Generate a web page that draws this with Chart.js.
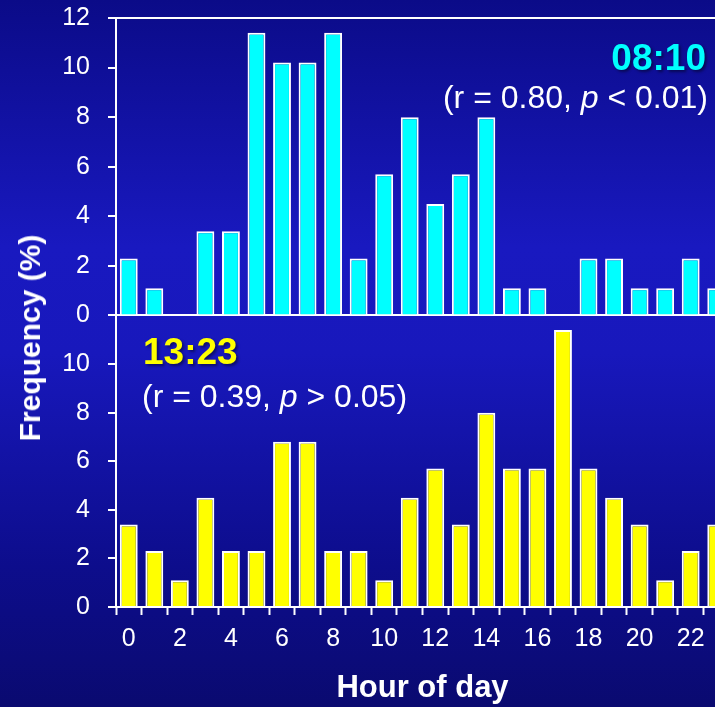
<!DOCTYPE html>
<html>
<head>
<meta charset="utf-8">
<script src="https://cdn.jsdelivr.net/npm/chart.js@4"></script>
<style>
  html, body { margin: 0; padding: 0; overflow: hidden; }
  body {
    width: 715px; height: 707px; position: relative;
    background: linear-gradient(to bottom, #0b0b88 0%, #1919c0 35%, #1818bc 50%, #0d0d8c 80%, #0a0a70 100%);
    font-family: "Liberation Sans", Arial, sans-serif; color: #fff;
  }
  #chart { position: absolute; left: 0; top: 0; }
  .note { position: absolute; white-space: nowrap; line-height: 1; }
  .time { font-size: 37px; font-weight: bold; text-shadow: 2px 2px 3px rgba(0, 0, 0, 0.45); }
  .stat { font-size: 32px; }
</style>
</head>
<body>
<canvas id="chart" width="740" height="707"></canvas>

<div class="note time" style="left:0; width:706px; text-align:right; top:39px; color:#00ffff;">08:10</div>
<div class="note stat" style="left:0; width:708px; text-align:right; top:81px;">(r = 0.80, <i>p</i> &lt; 0.01)</div>
<div class="note time" style="left:143px; top:333px; color:#ffff00;">13:23</div>
<div class="note stat" style="left:142px; top:380px;">(r = 0.39, <i>p</i> &gt; 0.05)</div>
<div class="note" style="left:30px; top:338px; font-size:30px; font-weight:bold; transform:translate(-50%, -50%) rotate(-90deg);">Frequency (%)</div>

<script>
const hours = ["0", "1", "2", "3", "4", "5", "6", "7", "8", "9", "10", "11",
               "12", "13", "14", "15", "16", "17", "18", "19", "20", "21", "22", "23"];

// 08:10 group (top panel)
const morningFreq = [2.3, 1.1, 0, 3.4, 3.4, 11.4, 10.2, 10.2, 11.4, 2.3, 5.7, 8.0,
                     4.5, 5.7, 8.0, 1.1, 1.1, 0, 2.3, 2.3, 1.1, 1.1, 2.3, 1.1];

// 13:23 group (bottom panel)
const afternoonFreq = [3.4, 2.3, 1.1, 4.5, 2.3, 2.3, 6.8, 6.8, 2.3, 2.3, 1.1, 4.5,
                       5.7, 3.4, 8.0, 5.7, 5.7, 11.4, 5.7, 4.5, 3.4, 1.1, 2.3, 3.4];

const freqTicks = [0, 2, 4, 6, 8, 10, 12];

Chart.defaults.font.family = "'Liberation Sans', Arial, sans-serif";
Chart.defaults.color = "#fff";

// one of the two stacked frequency axes
function freqAxis(hideTop, weight) {
  return {
    type: "linear",
    position: "left",
    stack: "panels",
    stackWeight: weight,
    min: 0,
    max: 12,
    afterBuildTicks: s => { s.ticks = freqTicks.map(v => ({ value: v })); },
    ticks: {
      color: "#fff",
      font: { size: 25 },
      padding: 18,
      autoSkip: false,
      callback: v => (hideTop && v === 12) ? "" : v
    },
    grid: {
      color: c => (c.tick && (c.tick.value === 0 || c.tick.value === 12)) ? "#fff" : "transparent",
      lineWidth: 2,
      tickColor: "#fff",
      tickLength: 8,
      tickWidth: 2
    },
    border: { color: "#fff", width: 2 },
    afterFit: s => {
      s.width = 116;
      s.paddingTop = 0;
      s.paddingBottom = 0;
    }
  };
}

const barStyle = {
  borderColor: "#fff",
  borderWidth: 2,
  grouped: false,
  barPercentage: 0.7,
  categoryPercentage: 1
};

new Chart(document.getElementById("chart"), {
  type: "bar",
  data: {
    labels: hours,
    datasets: [
      { label: "08:10", data: morningFreq, yAxisID: "yTop", backgroundColor: "#00ffff", ...barStyle },
      { label: "13:23", data: afternoonFreq, yAxisID: "yBot", backgroundColor: "#ffff00", ...barStyle }
    ]
  },
  options: {
    responsive: false,
    animation: false,
    layout: { padding: { top: 18, right: 11, bottom: 0, left: 0 } },
    plugins: {
      legend: { display: false },
      tooltip: { enabled: false }
    },
    scales: {
      x: {
        type: "category",
        grid: { offset: true, drawOnChartArea: false, tickColor: "#fff", tickLength: 8, tickWidth: 2 },
        border: { color: "#fff", width: 2 },
        ticks: {
          color: "#fff",
          font: { size: 25 },
          padding: 9,
          autoSkip: false,
          maxRotation: 0,
          callback: (v, i) => i % 2 === 0 ? hours[i] : ""
        },
        title: {
          display: true,
          text: "Hour of day",
          color: "#fff",
          font: { size: 31, weight: "bold" },
          padding: { top: 0, bottom: 0 }
        },
        afterFit: s => {
          s.height = 100;
          s.paddingLeft = 0;
          s.paddingRight = 0;
        }
      },
      yBot: freqAxis(true, 0.99),
      yTop: freqAxis(false, 1.01)
    }
  }
});
</script>
</body>
</html>
